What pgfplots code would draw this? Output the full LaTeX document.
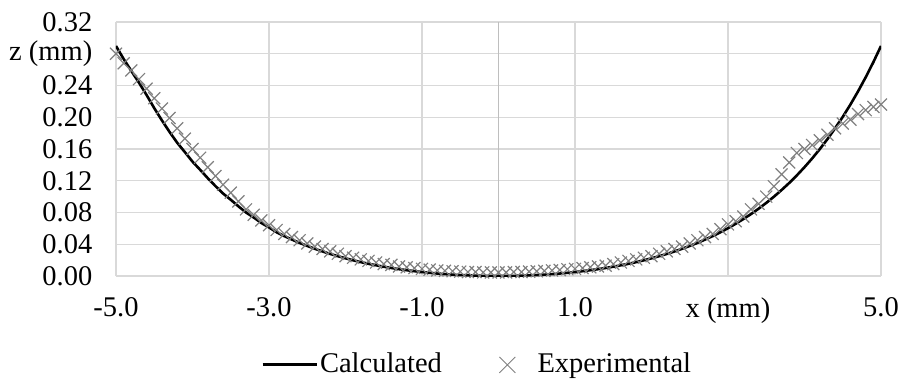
\documentclass[border=0pt]{standalone}
\usepackage{fontspec}
\setmainfont{Liberation Serif}
\usepackage{pgfplots}
\pgfplotsset{compat=1.18}
\definecolor{gridc}{RGB}{217,217,217}
\definecolor{zeroc}{RGB}{190,190,190}
\definecolor{expc}{RGB}{128,128,128}
\begin{document}
\fontsize{28.5bp}{33bp}\selectfont
\begin{tikzpicture}
\useasboundingbox (-116bp,-105bp) rectangle (783bp,276bp);
\begin{axis}[
  at={(0,0)}, anchor=south west,
  scale only axis, width=765bp, height=254bp,
  xmin=-5, xmax=5, ymin=0, ymax=0.32,
  axis line style={draw=none},
  major tick length=0pt,
  xtick={-5,-3,-1,1,3,5},
  xticklabels={-5.0,-3.0,-1.0,1.0,x (mm),5.0},
  ytick={0,0.04,0.08,0.12,0.16,0.20,0.24,0.28,0.32},
  yticklabels={0.00,0.04,0.08,0.12,0.16,0.20,0.24,z (mm),0.32},
  grid=major,
  major grid style={gridc, line width=1.3bp},
  extra x ticks={0}, extra x tick labels={},
  extra x tick style={grid=major, major grid style={zeroc, line width=1.3bp}},
  tick label style={font=\fontsize{28.5bp}{33bp}\selectfont},
  xticklabel style={yshift=-12bp},
  yticklabel style={xshift=-14bp},
  legend columns=2,
  legend style={draw=none, fill=none, at={(0.472,-0.35)}, anchor=center,
    font=\fontsize{28.5bp}{33bp}\selectfont,
    /tikz/every even column/.append style={column sep=55bp}},
]
\addplot[black, line width=2.6bp, no marks,
  legend image code/.code={\draw[black, line width=3bp] (0bp,0bp) -- (54bp,0bp);}]
coordinates {
(-5.0,0.2898)(-4.9,0.2734)(-4.8,0.2584)(-4.7,0.2436)(-4.6,0.2280)(-4.5,0.2115)
(-4.4,0.1961)(-4.3,0.1815)(-4.2,0.1679)(-4.1,0.1561)(-4.0,0.1441)(-3.9,0.1338)
(-3.8,0.1232)(-3.7,0.1133)(-3.6,0.1039)(-3.5,0.0961)(-3.4,0.0878)(-3.3,0.0800)
(-3.2,0.0737)(-3.1,0.0668)(-3.0,0.0612)(-2.9,0.0551)(-2.8,0.0503)(-2.7,0.0459)
(-2.6,0.0417)(-2.5,0.0379)(-2.4,0.0343)(-2.3,0.0309)(-2.2,0.0278)(-2.1,0.0250)
(-2.0,0.0223)(-1.9,0.0198)(-1.8,0.0175)(-1.7,0.0154)(-1.6,0.0135)(-1.5,0.0117)
(-1.4,0.0101)(-1.3,0.0086)(-1.2,0.0073)(-1.1,0.0061)(-1.0,0.0050)(-0.9,0.0040)
(-0.8,0.0031)(-0.7,0.0024)(-0.6,0.0017)(-0.5,0.0012)(-0.4,0.0008)(-0.3,0.0004)
(-0.2,0.0002)(-0.1,0.0000)(0.0,0.0000)(0.1,0.0000)(0.2,0.0002)(0.3,0.0004)
(0.4,0.0008)(0.5,0.0012)(0.6,0.0017)(0.7,0.0024)(0.8,0.0031)(0.9,0.0040)
(1.0,0.0050)(1.1,0.0061)(1.2,0.0073)(1.3,0.0086)(1.4,0.0101)(1.5,0.0117)
(1.6,0.0135)(1.7,0.0154)(1.8,0.0175)(1.9,0.0198)(2.0,0.0223)(2.1,0.0250)
(2.2,0.0278)(2.3,0.0309)(2.4,0.0343)(2.5,0.0379)(2.6,0.0417)(2.7,0.0459)
(2.8,0.0503)(2.9,0.0551)(3.0,0.0602)(3.1,0.0658)(3.2,0.0717)(3.3,0.0780)
(3.4,0.0848)(3.5,0.0921)(3.6,0.0999)(3.7,0.1083)(3.8,0.1172)(3.9,0.1268)
(4.0,0.1371)(4.1,0.1481)(4.2,0.1599)(4.3,0.1725)(4.4,0.1861)(4.5,0.2005)
(4.6,0.2160)(4.7,0.2326)(4.8,0.2504)(4.9,0.2694)(5.0,0.2898)
};
\addlegendentry{Calculated}
\addplot[only marks, mark=x, mark size=8.5bp, mark options={expc, line width=1.2bp},
  legend image code/.code={\draw[expc, line width=0.9bp] (0bp,-8bp) -- (16bp,8bp) (0bp,8bp) -- (16bp,-8bp); \path (36bp,0bp);}]
coordinates {
(-5.0,0.280)(-4.9,0.268)(-4.8,0.259)(-4.7,0.248)(-4.6,0.236)(-4.5,0.224)
(-4.4,0.211)(-4.3,0.199)(-4.2,0.186)(-4.1,0.173)(-4.0,0.160)(-3.9,0.149)
(-3.8,0.137)(-3.7,0.126)(-3.6,0.115)(-3.5,0.105)(-3.4,0.094)(-3.3,0.084)
(-3.2,0.077)(-3.1,0.070)(-3.0,0.064)(-2.9,0.058)(-2.8,0.053)(-2.7,0.049)
(-2.6,0.045)(-2.5,0.041)(-2.4,0.037)(-2.3,0.034)(-2.2,0.031)(-2.1,0.028)
(-2.0,0.025)(-1.9,0.023)(-1.8,0.021)(-1.7,0.019)(-1.6,0.017)(-1.5,0.015)
(-1.4,0.014)(-1.3,0.012)(-1.2,0.011)(-1.1,0.010)(-1.0,0.009)(-0.9,0.008)
(-0.8,0.007)(-0.7,0.0065)(-0.6,0.006)(-0.5,0.0055)(-0.4,0.005)(-0.3,0.005)
(-0.2,0.0045)(-0.1,0.0045)(0.0,0.0045)(0.1,0.0045)(0.2,0.005)(0.3,0.005)
(0.4,0.0055)(0.5,0.006)(0.6,0.0065)(0.7,0.007)(0.8,0.0075)(0.9,0.0085)
(1.0,0.009)(1.1,0.010)(1.2,0.011)(1.3,0.012)(1.4,0.013)(1.5,0.015)
(1.6,0.017)(1.7,0.019)(1.8,0.021)(1.9,0.023)(2.0,0.025)(2.1,0.028)
(2.2,0.031)(2.3,0.034)(2.4,0.037)(2.5,0.041)(2.6,0.045)(2.7,0.049)
(2.8,0.053)(2.9,0.059)(3.0,0.065)(3.1,0.069)(3.2,0.075)(3.3,0.084)
(3.4,0.091)(3.5,0.100)(3.6,0.113)(3.7,0.128)(3.8,0.143)(3.9,0.155)
(4.0,0.160)(4.1,0.165)(4.2,0.171)(4.3,0.178)(4.4,0.186)(4.5,0.192)
(4.6,0.197)(4.7,0.204)(4.8,0.209)(4.9,0.213)(5.0,0.216)
};
\addlegendentry{Experimental}
\end{axis}
\end{tikzpicture}
\end{document}
